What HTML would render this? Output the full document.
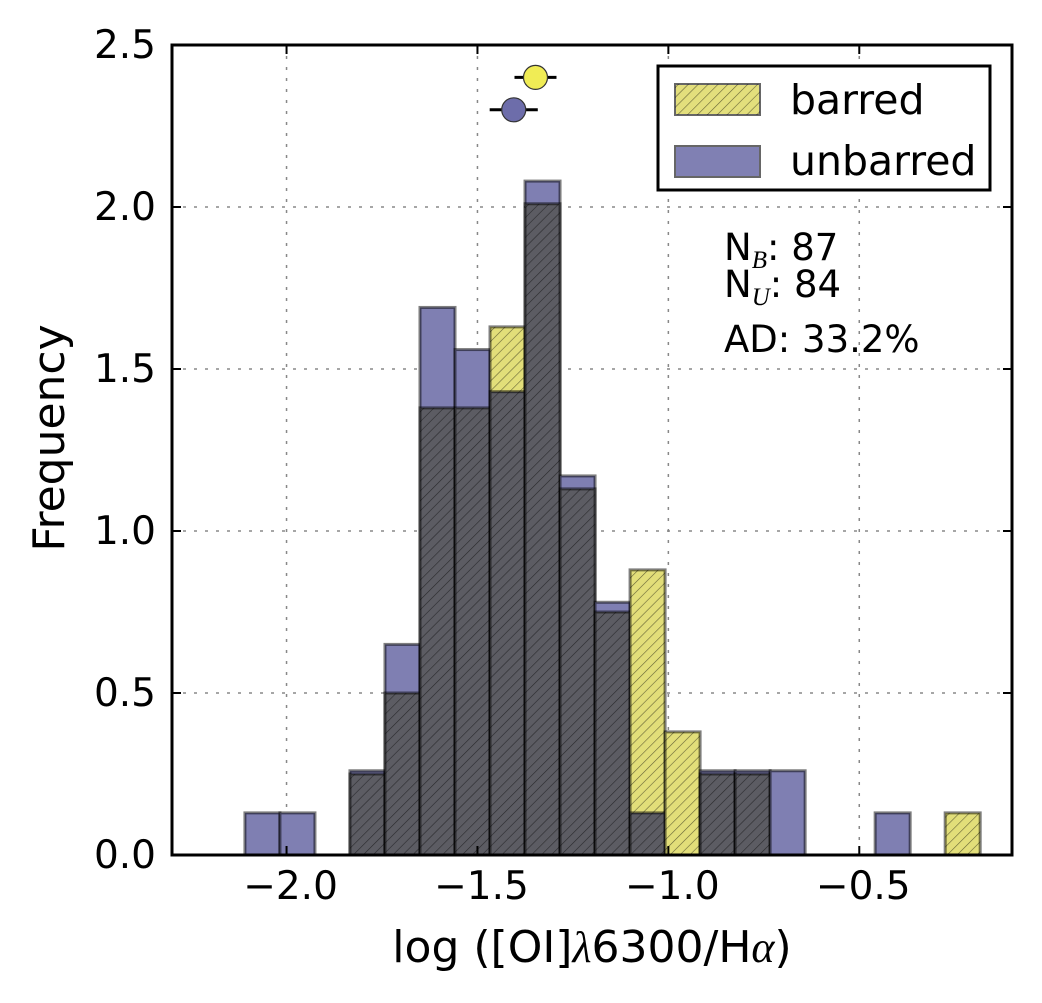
<!DOCTYPE html>
<html><head><meta charset="utf-8">
<style>
body{margin:0;background:#fff;}
svg{display:block;font-family:"DejaVu Sans","Liberation Sans",sans-serif;}
</style></head>
<body>
<svg id="chart" width="1042" height="1003" viewBox="0 0 1042 1003" xmlns="http://www.w3.org/2000/svg">
<defs>
<pattern id="hatch" patternUnits="userSpaceOnUse" width="7" height="7" patternTransform="rotate(45)">
<line x1="0" y1="0" x2="0" y2="7" stroke="#000" stroke-width="1.2" stroke-opacity="0.55"/>
</pattern>
</defs>
<g id="grid"></g>
<g id="bars"></g>
<rect x="172" y="45" width="840" height="810" fill="none" stroke="#000" stroke-width="3"/>
<g id="ticks"></g>
<g id="markers"></g>
<text x="592" y="962" font-size="44" text-anchor="middle">log ([OI]<tspan font-family="Liberation Serif" font-style="italic">λ</tspan>6300/H<tspan font-family="Liberation Serif" font-style="italic">α</tspan>)</text>
<text transform="translate(64,438) rotate(-90)" font-size="44" text-anchor="middle">Frequency</text>
<g>
<rect x="658" y="66" width="332" height="124" fill="#fff" stroke="#000" stroke-width="3"/>
<rect x="675" y="84" width="85" height="31" fill="#e3df7c" stroke="#666" stroke-width="2"/>
<rect x="675" y="84" width="85" height="31" fill="url(#hatch)"/>
<text x="790" y="114" font-size="41">barred</text>
<rect x="675" y="146" width="85" height="31" fill="#8080b3" stroke="#666" stroke-width="2"/>
<text x="790" y="175" font-size="41">unbarred</text>
</g>
<g font-size="37">
<text x="724" y="260">N<tspan font-family="Liberation Serif" font-style="italic" font-size="25" dy="8">B</tspan><tspan dy="-8">: 87</tspan></text>
<text x="724" y="297">N<tspan font-family="Liberation Serif" font-style="italic" font-size="25" dy="8">U</tspan><tspan dy="-8">: 84</tspan></text>
<text x="724" y="352">AD: 33.2%</text>
</g>
</svg>
<script>
const binStart = -2.109;
const binWidth = 0.0917;
const unbarred = [0.13,0.13,0,0.26,0.65,1.69,1.56,1.43,2.08,1.17,0.78,0.13,0,0.26,0.26,0.26,0,0,0.13,0,0];
const barred   = [0,0,0,0.25,0.50,1.38,1.38,1.63,2.01,1.13,0.75,0.88,0.38,0.25,0.25,0,0,0,0,0,0.13];
const xTicks = [-2.0,-1.5,-1.0,-0.5];
const xTickLabels = ["−2.0","−1.5","−1.0","−0.5"];
const yTicks = [0,0.5,1.0,1.5,2.0,2.5];
const yTickLabels = ["0.0","0.5","1.0","1.5","2.0","2.5"];
const meanBarred = -1.348, errBarred = 0.055, meanBarredY = 2.40;
const meanUnbarred = -1.405, errUnbarred = 0.063, meanUnbarredY = 2.30;

const X0=172,X1=1012,Y0=855,Y1=45,xmin=-2.3,xmax=-0.1,ymin=0,ymax=2.5;
const sx=v=>X0+(v-xmin)/(xmax-xmin)*(X1-X0);
const sy=v=>Y0-(v-ymin)/(ymax-ymin)*(Y0-Y1);
const NS="http://www.w3.org/2000/svg";
function mk(tag,attrs,parent){const e=document.createElementNS(NS,tag);for(const k in attrs)e.setAttribute(k,attrs[k]);parent.appendChild(e);return e;}
const grid=document.getElementById('grid'),bars=document.getElementById('bars'),ticks=document.getElementById('ticks'),markers=document.getElementById('markers');
xTicks.forEach((t,i)=>{
  const g=mk('line',{x1:sx(t),x2:sx(t),y1:Y1,y2:Y0,stroke:'#888','stroke-width':1.5,'stroke-dasharray':'3,8'},grid);
  
  
  mk('line',{x1:sx(t),x2:sx(t),y1:Y0,y2:Y0-9,stroke:'#000','stroke-width':2},ticks);
  mk('line',{x1:sx(t),x2:sx(t),y1:Y1,y2:Y1+9,stroke:'#000','stroke-width':2},ticks);
  const l=mk('text',{x:sx(t)+4,y:Y0+44,'font-size':39,'text-anchor':'middle'},ticks);
  l.textContent=xTickLabels[i];
  
  
});
yTicks.forEach((t,i)=>{
  if(t>0&&t<2.5){const g=mk('line',{x1:X0,x2:X1,y1:sy(t),y2:sy(t),stroke:'#888','stroke-width':1.5,'stroke-dasharray':'3,8'},grid);
  
  }
  mk('line',{x1:X0,x2:X0+9,y1:sy(t),y2:sy(t),stroke:'#000','stroke-width':2},ticks);
  mk('line',{x1:X1,x2:X1-9,y1:sy(t),y2:sy(t),stroke:'#000','stroke-width':2},ticks);
  const l=mk('text',{x:X0-16,y:sy(t)+13,'font-size':39,'text-anchor':'end'},ticks);
  l.textContent=yTickLabels[i];
  
  
});
function bar(i,lo,hi,fill,hatch,name){
  if(hi<=lo)return;
  const x=sx(binStart+i*binWidth),w=sx(binStart+(i+1)*binWidth)-x;
  const r=mk('rect',{x:x,y:sy(hi),width:w,height:sy(lo)-sy(hi),fill:fill,stroke:'#000','stroke-opacity':0.5,'stroke-width':3},bars);
  
  
  if(hatch)mk('rect',{x:x,y:sy(hi),width:w,height:sy(lo)-sy(hi),fill:'url(#hatch)'},bars);
}
unbarred.forEach((u,i)=>{
  const b=barred[i],m=Math.min(u,b);
  if(u>b)bar(i,0,u,'#7f7fb2',false,'bar-unbarred');
  if(b>u)bar(i,0,b,'#e2de79',true,'bar-barred');
  if(m>0)bar(i,0,m,'#5c5c63',true,'bar-overlap');
});
function mean(v,e,y,fill,name){
  mk('line',{x1:sx(v-e),x2:sx(v+e),y1:sy(y),y2:sy(y),stroke:'#000','stroke-width':3},markers);
  const c=mk('circle',{cx:sx(v),cy:sy(y),r:12,fill:fill,stroke:'#333','stroke-width':1.2},markers);
  
  
}
mean(meanBarred,errBarred,meanBarredY,'#f0ec55','mean-barred');
mean(meanUnbarred,errUnbarred,meanUnbarredY,'#6d6daa','mean-unbarred');
</script>
</body></html>
